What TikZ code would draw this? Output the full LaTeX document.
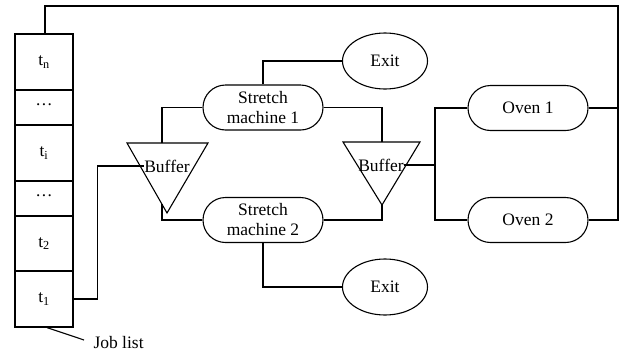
\documentclass[tikz,border=0pt]{standalone}
\usepackage{fontspec}
\setmainfont{Liberation Serif}
\usetikzlibrary{shapes.misc,shapes.geometric,calc}
\begin{document}
\begin{tikzpicture}[x=1pt,y=-1pt,line width=1.1pt,
  every node/.style={font=\fontsize{17.5}{20}\selectfont},
  cell/.style={draw,rectangle,minimum width=58pt,inner sep=0pt,line width=1.2pt},
  machine/.style={draw,rounded rectangle,minimum width=120pt,minimum height=45pt,inner sep=0pt,align=center},
  exitnode/.style={draw,ellipse,minimum width=85pt,minimum height=56pt,inner sep=0pt},
  buftext/.style={inner sep=0pt}]
\useasboundingbox (0,0) rectangle (619,354);
% job list
\node[cell,minimum height=56pt] (tn) at (44,62) {t\textsubscript{n}};
\node[cell,minimum height=35pt] (d1) at (44,107.5) {···};
\node[cell,minimum height=56pt] (ti) at (44,153) {t\textsubscript{i}};
\node[cell,minimum height=35pt] (d2) at (44,198.5) {···};
\node[cell,minimum height=55pt] (t2) at (44,243.5) {t\textsubscript{2}};
\node[cell,minimum height=56pt] (t1) at (44,299) {t\textsubscript{1}};
\node[anchor=west,inner sep=0pt] (jlab) at (93,343) {Job list};
\draw ([xshift=3pt]t1.south) -- ($(jlab.west)+(-9,-3)$);
% buffers
\coordinate (b1l) at (127,143); \coordinate (b1r) at (208,143); \coordinate (b1a) at (167,213);
\draw (b1l) -- (b1r) -- (b1a) -- cycle;
\node[buftext] (b1) at (167,166) {Buffer};
\coordinate (b2l) at (343,142); \coordinate (b2r) at (420,142); \coordinate (b2a) at (382,205);
\draw (b2l) -- (b2r) -- (b2a) -- cycle;
\node[buftext] (b2) at (381,165) {Buffer};
\coordinate (b1t) at (162,143); \coordinate (b1b) at (162,204);
\coordinate (b2t) at (382,142);
% machines
\node[machine] (sm1) at (263,107.5) {Stretch\\machine 1};
\node[machine] (sm2) at (263,220) {Stretch\\machine 2};
\node[exitnode] (ex1) at (385,61) {Exit};
\node[exitnode] (ex2) at (385,287) {Exit};
\node[machine] (ov1) at (528,108) {Oven 1};
\node[machine] (ov2) at (528,220) {Oven 2};
\coordinate (jn) at (435,165);
\coordinate (rr) at (618,6);
% connectors
\draw (t1.east) -| ([xshift=-46pt]b1.west) -- (b1.west);
\draw (b1t) |- (sm1.west);
\draw (b1b) |- (sm2.west);
\draw (sm1.north) |- (ex1.west);
\draw (sm2.south) |- (ex2.west);
\draw (sm1.east) -| (b2t);
\draw (sm2.east) -| (b2a);
\draw (b2.east) -- (jn);
\draw (ov1.west) -| (jn) |- (ov2.west);
\draw (ov1.east) -- (ov1.east -| rr);
\draw (ov2.east) -| (rr) -| ([xshift=1pt]tn.north);
\end{tikzpicture}
\end{document}
